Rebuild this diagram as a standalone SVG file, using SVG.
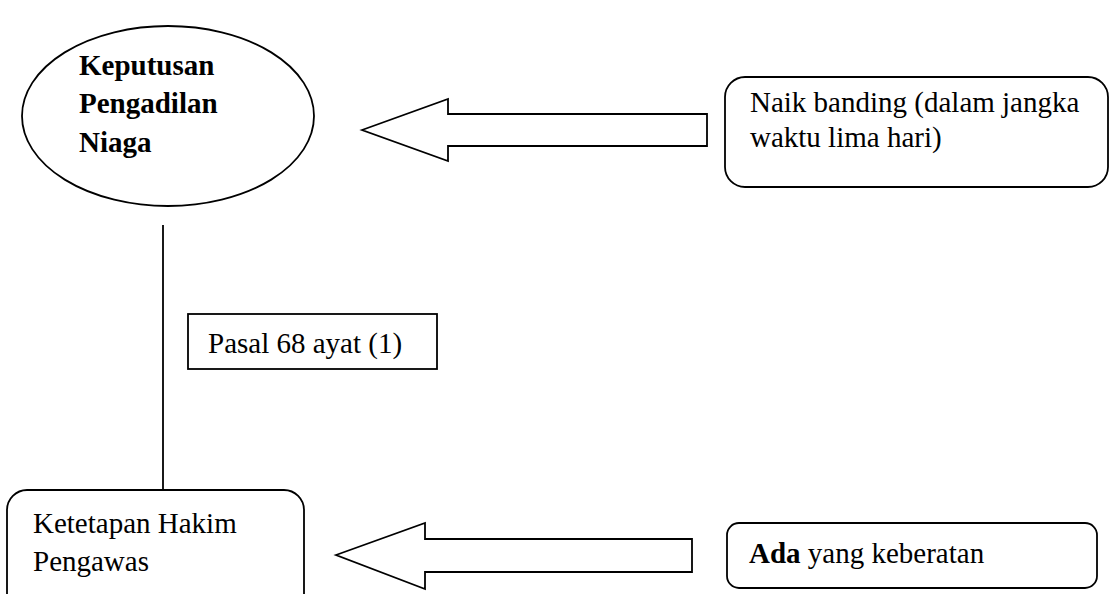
<svg xmlns="http://www.w3.org/2000/svg" width="1110" height="594" viewBox="0 0 1110 594">
<style>
.s{fill:#fff;stroke:#000;stroke-width:1.8}
.t{font-family:"Liberation Serif","Times New Roman",serif;font-size:29px;fill:#000}
.b{font-weight:bold}
</style>
<rect x="0" y="0" width="1110" height="594" fill="#fff"/>
<g id="connectors">
<line x1="163" y1="225" x2="163" y2="490" stroke="#000" stroke-width="1.8"/>
<polygon class="s" points="362,130 448,99 448,114 707,114 707,146 448,146 448,161"/>
<polygon class="s" points="336,555 425,523 425,539 692,539 692,572 425,572 425,589"/>
</g>
<g id="node-keputusan">
<ellipse class="s" cx="168" cy="116" rx="146" ry="90"/>
<text class="t b" x="79" y="75">Keputusan</text>
<text class="t b" x="79" y="113">Pengadilan</text>
<text class="t b" x="79" y="152">Niaga</text>
</g>
<g id="node-naik">
<rect class="s" x="725" y="77" width="383" height="110" rx="20"/>
<text class="t" x="750" y="112">Naik banding (dalam jangka</text>
<text class="t" x="750" y="147">waktu lima hari)</text>
</g>
<g id="node-pasal">
<rect class="s" x="188" y="314" width="249" height="55"/>
<text class="t" x="208" y="353">Pasal 68 ayat (1)</text>
</g>
<g id="node-ketetapan">
<rect class="s" x="7" y="490" width="297" height="130" rx="20"/>
<text class="t" x="33" y="533">Ketetapan Hakim</text>
<text class="t" x="33" y="571">Pengawas</text>
</g>
<g id="node-ada">
<rect class="s" x="727" y="523" width="370" height="65" rx="12"/>
<text class="t" x="749" y="563"><tspan class="b">Ada</tspan> yang keberatan</text>
</g>
</svg>
